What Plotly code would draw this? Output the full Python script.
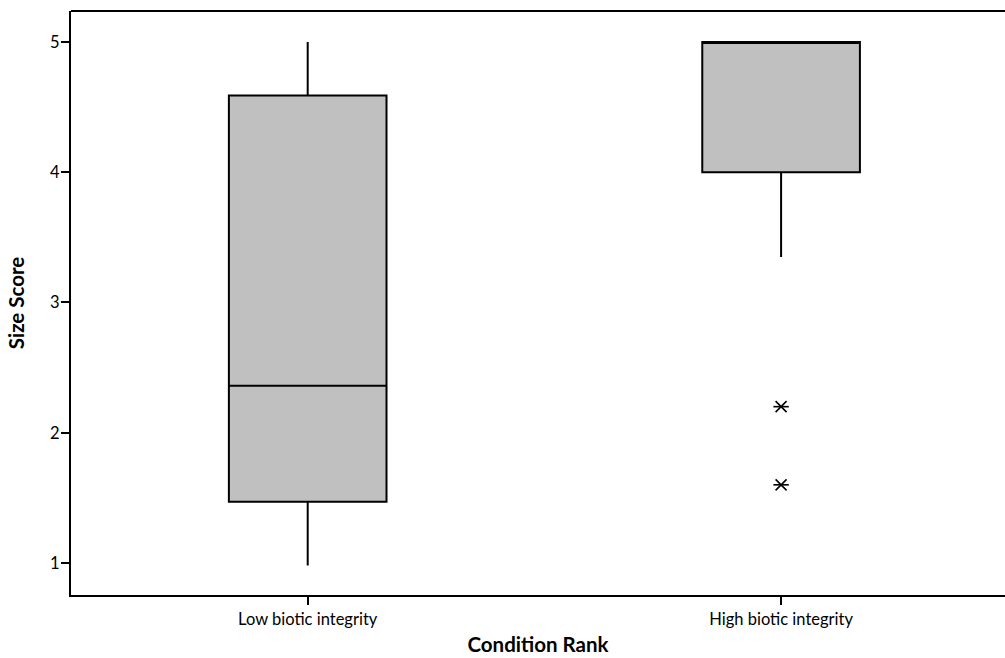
import plotly.graph_objects as go

categories = ["Low biotic integrity", "High biotic integrity"]
q1 = [1.47, 4.0]
median = [2.36, 5.0]
q3 = [4.59, 5.0]
lower_whisker = [0.98, 3.35]
upper_whisker = [5.0, 5.0]
outlier_cats = ["High biotic integrity", "High biotic integrity"]
outlier_vals = [2.2, 1.6]
y_ticks = [1, 2, 3, 4, 5]

fig = go.Figure()
fig.add_trace(go.Box(
    x=categories, q1=q1, median=median, q3=q3,
    lowerfence=lower_whisker, upperfence=upper_whisker,
    fillcolor="#c0c0c0", line=dict(color="black", width=2),
    width=0.333, boxpoints=False, whiskerwidth=0, showlegend=False,
    hoverinfo="skip",
))
for sym in ["x-thin-open", "line-ew-open"]:
    fig.add_trace(go.Scatter(
        x=outlier_cats, y=outlier_vals, mode="markers",
        marker=dict(symbol=sym, size=11, color="black",
                    line=dict(color="black", width=1.6)),
        showlegend=False, hoverinfo="skip",
    ))

fig.update_layout(
    width=1005, height=658,
    margin=dict(l=71, r=0, t=11, b=63),
    plot_bgcolor="white", paper_bgcolor="white",
    font=dict(family="Lato", color="black", size=16.5),
    xaxis=dict(
        type="category", categoryorder="array", categoryarray=categories,
        range=[-0.5, 1.473], showline=True, linecolor="black", linewidth=2,
        ticks="outside", ticklen=8, tickwidth=2, tickcolor="black",
        showgrid=False, zeroline=False,
        title=dict(text="<b>Condition Rank</b>", font=dict(size=20.5), standoff=10),
        tickfont=dict(size=16.5),
    ),
    yaxis=dict(
        range=[0.754, 5.238], tickvals=y_ticks, ticktext=[str(v) for v in y_ticks],
        showline=True, linecolor="black", linewidth=2,
        ticks="outside", ticklen=8, tickwidth=2, tickcolor="black",
        ticklabelstandoff=-2,
        showgrid=False, zeroline=False,
        title=dict(text="<b>Size Score</b>", font=dict(size=20.5), standoff=20),
        tickfont=dict(size=16.5),
    ),
    shapes=[dict(type="line", xref="paper", yref="paper", x0=0, x1=1, y0=1, y1=1,
                 line=dict(color="black", width=2))],
)
fig.write_html("out.html")
